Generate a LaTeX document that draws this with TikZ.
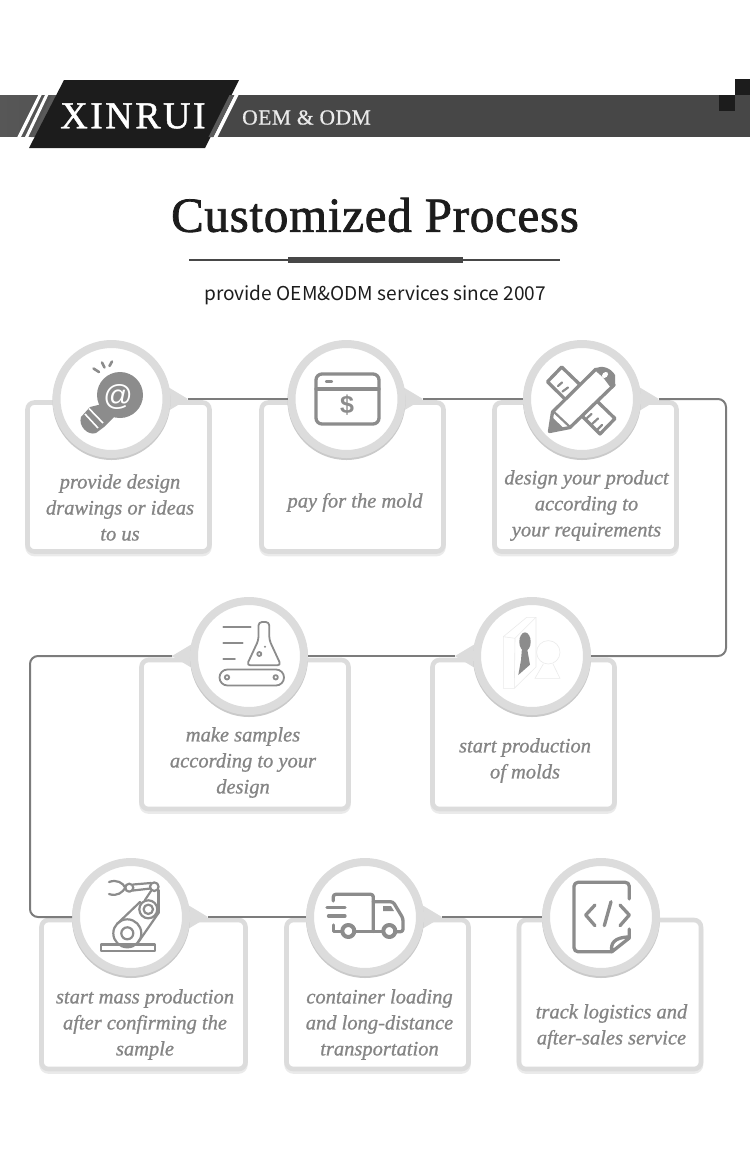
\documentclass[tikz,border=0pt]{standalone}
\usepackage{fontspec}
\setmainfont{Liberation Serif}
\newfontfamily\brandfont[FakeBold=1.2,LetterSpace=6.5]{Liberation Serif}
\newfontfamily\oemfont[FakeBold=0.8,LetterSpace=2.5]{Liberation Serif}
\newfontfamily\titlefont[FakeBold=1.5,LetterSpace=1.5]{Liberation Serif}
\newfontfamily\subfont{Noto Sans CJK SC}
\newfontfamily\signfont{Liberation Sans}
\newfontfamily\handfont[FakeBold=0.9,Style=Italic]{Liberation Serif}
\usetikzlibrary{shadows}
\definecolor{barcol}{HTML}{474747}
\definecolor{barleft}{HTML}{575757}
\definecolor{bandcol}{HTML}{5A5A5A}
\definecolor{darkcol}{HTML}{1C1C1C}
\definecolor{ringcol}{HTML}{DCDCDC}
\definecolor{flowcol}{HTML}{7C7C7C}
\definecolor{iconcol}{HTML}{8C8C8C}
\definecolor{textcol}{HTML}{858585}
\tikzset{
  stepcard/.style={draw=ringcol, line width=4.6pt, fill=white, rounded corners=7pt, minimum height=149pt, inner sep=0pt,
    copy shadow={shadow xshift=0pt, shadow yshift=-2.5pt, draw=ringcol!60, fill=ringcol!60}},
  disc/.style={circle, draw=ringcol, line width=8pt, fill=white, minimum size=110pt, inner sep=0pt,
    copy shadow={shadow xshift=0pt, shadow yshift=-2pt, draw=ringcol!92!black, fill=ringcol!92!black}},
  steptext/.style={font=\fontsize{20.5}{26}\selectfont\itshape\handfont, text=textcol, align=center, inner sep=0pt},
  flowline/.style={draw=flowcol, line width=2pt},
  tail/.style={fill=ringcol},
  iconline/.style={draw=iconcol, line width=3.3pt, line join=round, line cap=round},
  thinicon/.style={draw=iconcol, line width=1.8pt, line join=round, line cap=round},
  paleicon/.style={draw=black!8, line width=0.6pt}
}
\begin{document}
\begin{tikzpicture}[x=1pt, y=-1pt]
  \useasboundingbox (0,0) rectangle (750,1168);

  % header
  \fill[barcol] (0,95) rectangle (750,137);
  \shade[left color=barleft, right color=barcol] (0,95.4) rectangle (200,136.6);
  \fill[darkcol] (719,95) rectangle (735,111);
  \fill[darkcol] (735,79) rectangle (750,95);
  \fill[white] (38.3,95) -- (41.7,95) -- (21,137) -- (17.3,137) -- cycle;
  \fill[white] (45,95) -- (48.3,95) -- (28.3,137) -- (25,137) -- cycle;
  \fill[bandcol] (52,95) -- (56.5,95) -- (35.5,137) -- (31,137) -- cycle;
  \fill[white] (234.5,95) -- (238.5,95) -- (217.5,137) -- (213.5,137) -- cycle;
  \fill[darkcol] (64,80) -- (239,80) -- (205,148) -- (29,148) -- cycle;
  \fill[bandcol] (229.5,95) -- (234,95) -- (213,137) -- (208.5,137) -- cycle;
  \node[font=\fontsize{38}{38}\selectfont\brandfont, text=white, inner sep=0pt] (brand) at (133,116) {XINRUI};
  \node[font=\fontsize{21.5}{22}\selectfont\oemfont, text=white!92!black, inner sep=0pt] (oem) at (306.5,117.5) {OEM \& ODM};

  % title
  \node[font=\fontsize{49}{49}\selectfont\titlefont, text=darkcol, inner sep=0pt] (title) at (375,215) {Customized Process};
  \draw[barcol, line width=2pt] (189,260) -- (560,260);
  \fill[barcol] (288,257) rectangle (463,263);
  \node[font=\fontsize{19.1}{22}\selectfont\subfont, text=darkcol, inner sep=0pt] (subtitle) at (375,295.5) {provide OEM\&ODM services since 2007};

  % cards
  \node[stepcard, minimum width=182pt] (card1) at (118.5,477) {};
  \node[stepcard, minimum width=182pt] (card2) at (352.5,477) {};
  \node[stepcard, minimum width=182pt] (card3) at (585.5,477) {};
  \node[stepcard, minimum width=207pt] (card4) at (245,734.5) {};
  \node[stepcard, minimum width=182pt] (card5) at (523.5,734.5) {};
  \node[stepcard, minimum width=204pt] (card6) at (143.5,994.5) {};
  \node[stepcard, minimum width=182pt] (card7) at (377.5,994.5) {};
  \node[stepcard, minimum width=182pt] (card8) at (610,994.5) {};

  % tails
  \coordinate (tip1) at (188,399);
  \coordinate (tip2) at (423,399);
  \coordinate (tip3) at (659,399);
  \coordinate (tip4) at (172,656);
  \coordinate (tip5) at (455,656);
  \coordinate (tip6) at (208,917);
  \coordinate (tip7) at (442,917);
  \coordinate (turn1) at (726,399);
  \coordinate (turn2) at (726,656);
  \coordinate (turn3) at (30,656);
  \coordinate (turn4) at (30,917);
  \fill[tail] (tip1) -- ++(-20,-12) -- ++(0,24) -- cycle;
  \fill[tail] (tip2) -- ++(-20,-12) -- ++(0,24) -- cycle;
  \fill[tail] (tip3) -- ++(-20,-12) -- ++(0,24) -- cycle;
  \fill[tail] (tip4) -- ++(20,-12) -- ++(0,24) -- cycle;
  \fill[tail] (tip5) -- ++(20,-12) -- ++(0,24) -- cycle;
  \fill[tail] (tip6) -- ++(-20,-12) -- ++(0,24) -- cycle;
  \fill[tail] (tip7) -- ++(-20,-12) -- ++(0,24) -- cycle;

  % discs
  \node[disc] (disc1) at (111.5,399) {};
  \node[disc] (disc2) at (346.5,399) {};
  \node[disc] (disc3) at (582,399) {};
  \node[disc] (disc4) at (249,656) {};
  \node[disc] (disc5) at (532,656) {};
  \node[disc] (disc6) at (131,917) {};
  \node[disc] (disc7) at (365,917) {};
  \node[disc] (disc8) at (601,917) {};

  % flow
  \draw[flowline] (tip1) -- (disc2);
  \draw[flowline] (tip2) -- (disc3);
  \draw[flowline, rounded corners=8pt] (tip3) -- (turn1) -- (turn2) -- (disc5);
  \draw[flowline] (tip5) -- (disc4);
  \draw[flowline, rounded corners=8pt] (tip4) -- (turn3) -- (turn4) -- (disc6);
  \draw[flowline] (tip6) -- (disc7);
  \draw[flowline] (tip7) -- (disc8);

  % bulb
  \fill[iconcol] (120,395) circle (23pt);
  \fill[iconcol] (102,404) -- (114,417) -- (104,427) -- (96,433) .. controls (88,436) and (78,426) .. (81,417) -- (90,407) -- cycle;
  \draw[white, line width=1.6pt] (85,414) -- (98,428);
  \draw[white, line width=1.6pt] (89,408.5) -- (103,423);
  \node[font=\fontsize{29}{29}\selectfont\signfont, text=white, inner sep=0pt] (atsign) at (118,397) {@};
  \draw[iconcol, line width=2.6pt, line cap=round] (93.5,368.5) -- (99,372);
  \draw[iconcol, line width=2.6pt, line cap=round] (102,362.5) -- (104.5,367.5);
  \draw[iconcol, line width=2.6pt, line cap=round] (112,361.5) -- (109.5,366);

  % browser
  \draw[iconline, rounded corners=6pt] (316,374) rectangle (379,424);
  \draw[iconline] (316,389) -- (379,389);
  \draw[iconline, line width=2.2pt] (326,381.5) -- (332,381.5);
  \node[font=\fontsize{25}{25}\selectfont\bfseries\signfont, text=iconcol, inner sep=0pt] (dollar) at (347,405) {\$};

  % ruler and pencil
  \draw[iconline] (561.7,367) -- (547.5,381.7) -- (600,434) -- (615,418.5) -- cycle;
  \draw[thinicon, line width=2.2pt] (558,386) -- (562,382.5);
  \draw[thinicon, line width=2.2pt] (562.5,391.5) -- (568,387.5);
  \draw[thinicon, line width=2.2pt] (569,397) -- (572,393);
  \draw[thinicon, line width=2.2pt] (587,418) -- (591.5,414);
  \draw[thinicon, line width=2.2pt] (592,424) -- (598,418.5);
  \draw[thinicon, line width=2.2pt] (598,429) -- (602,425);
  \draw[iconline, fill=white] (596,369) -- (552.5,412) -- (549.5,431.5) -- (570,427.5) -- (614,385) -- cycle;
  \fill[iconcol] (596,368) .. controls (602,365) and (611,368) .. (615,375) -- (615,385) -- (611,388) -- cycle;
  \fill[white, rotate around={45:(605,375)}] (605,375) ellipse (3.5pt and 2.5pt);
  \fill[iconcol] (549,432) -- (552,417) -- (564.5,429) -- cycle;
  \draw[thinicon, line width=2.2pt] (553,411) -- (570,427);

  % flask and belt
  \draw[thinicon] (223.3,626.7) -- (250.7,626.7);
  \draw[thinicon] (223.3,643.3) -- (242.7,643.3);
  \draw[thinicon] (223.3,659.3) -- (235,659.3);
  \draw[thinicon, rounded corners=3.5pt] (258.5,640) -- (258.5,622) -- (269.3,622) -- (269.3,640) -- (281,665.3) -- (246.7,665.3) -- cycle;
  \draw[thinicon] (259.3,654) circle (2pt);
  \fill[iconcol] (265,646.7) circle (1.2pt);
  \draw[thinicon, rounded corners=8pt] (219.5,669.5) rectangle (284,685.5);
  \draw[thinicon] (227,677.3) circle (2.2pt);
  \draw[thinicon] (275.7,677.3) circle (2.2pt);

  % mold
  \draw[paleicon] (503.3,636.7) -- (526.7,617.3) -- (536,617.3) -- (536,667) -- (514.3,688.3) -- (503.3,688.3) -- cycle;
  \draw[paleicon] (503.3,636.7) -- (515,638.3) -- (536,617.3);
  \draw[paleicon] (515,638.3) -- (514.3,688.3);
  \fill[iconcol] (525,641.7) ellipse (5.7pt and 9.3pt);
  \fill[iconcol] (522,648) -- (521,660) -- (518.3,675) -- (530,664.7) -- (527,648) -- cycle;
  \draw[paleicon] (548.3,652.3) circle (11.7pt);
  \draw[paleicon] (543.3,664) -- (535,678.3) -- (560,678.3) -- (553,664);

  % robot arm
  \draw[thinicon, line width=2.2pt] (100.7,944.5) rectangle (155,950.7);
  \draw[thinicon, line width=2.2pt] (127.3,933.3) circle (14pt);
  \draw[thinicon, line width=2.2pt] (127.3,933.3) circle (6pt);
  \draw[thinicon, line width=2.2pt] (148.3,909.3) circle (9pt);
  \draw[thinicon, line width=2.2pt] (148.3,909.3) circle (4.7pt);
  \draw[thinicon, line width=2.2pt] (154.3,886.7) circle (4.3pt);
  \draw[thinicon, line width=2.2pt] (129.3,887.7) circle (4pt);
  \draw[thinicon, line width=2.2pt] (117,924) -- (140,902);
  \draw[thinicon, line width=2.2pt] (137,944) -- (158.5,913);
  \draw[thinicon, line width=2.2pt] (145,900) -- (151,891);
  \draw[thinicon, line width=2.2pt] (158.5,913) -- (158.5,890);
  \draw[thinicon, line width=2.2pt] (133,884.5) -- (151,883);
  \draw[thinicon, line width=2.2pt] (133,890.5) -- (150.5,888.5);
  \draw[thinicon, line width=2.2pt] (109,882) .. controls (117,879) and (123,883) .. (125.3,887.7) .. controls (123,892) and (117,897) .. (109,894);

  % truck
  \draw[iconline, rounded corners=2.5pt] (333.3,901) -- (333.3,894.3) -- (373.3,894.3) -- (373.3,931.5);
  \draw[iconline] (333.3,925) -- (333.3,931.7) -- (341,931.7);
  \draw[iconline] (327,907.3) -- (345,907.3);
  \draw[iconline] (328.5,916) -- (345,916);
  \draw[iconline] (355,931.7) -- (382.5,931.7);
  \draw[iconline, rounded corners=2.5pt] (373.3,901.7) -- (393,901.7) -- (403,918.3) -- (403,931.7) -- (396,931.7);
  \fill[iconcol] (383,906) -- (391,906) -- (394,911) -- (383,911) -- cycle;
  \draw[iconline, line width=4pt, fill=white] (348.3,931) circle (6pt);
  \draw[iconline, line width=4pt, fill=white] (389.3,931) circle (6pt);

  % code file
  \draw[iconline, rounded corners=4pt] (629.3,899) -- (629.3,882.3) -- (574,882.3) -- (574,951.7) -- (612,951.7);
  \draw[iconline] (629.3,929) -- (629.3,938) -- (612,951.7) .. controls (610,944) and (614,937) .. (629.3,937);
  \draw[iconline] (595,905) -- (585.7,915) -- (595,925.7);
  \draw[iconline] (620,905) -- (629.3,915) -- (620,925.7);
  \draw[iconline] (611,901.7) -- (604.3,925.7);

  % labels
  \node[steptext] (label1) at (120,507.5) {provide design\\drawings or ideas\\to us};
  \node[steptext] (label2) at (355,502.5) {pay for the mold};
  \node[steptext] (label3) at (586.5,505.5) {design your product\\according to\\your requirements};
  \node[steptext] (label4) at (243,762.5) {make samples\\according to your\\design};
  \node[steptext] (label5) at (525,760.5) {start production\\of molds};
  \node[steptext] (label6) at (145,1024.5) {start mass production\\after confirming the\\sample};
  \node[steptext] (label7) at (379.5,1024.5) {container loading\\and long-distance\\transportation};
  \node[steptext] (label8) at (611.5,1026.5) {track logistics and\\after-sales service};
\end{tikzpicture}
\end{document}
